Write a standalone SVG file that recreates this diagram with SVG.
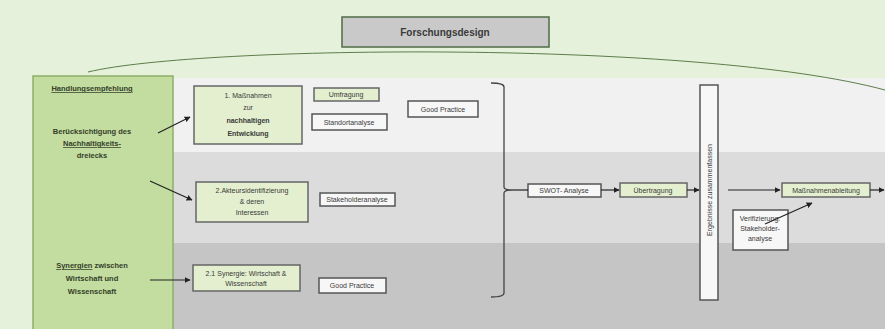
<svg xmlns="http://www.w3.org/2000/svg" width="885" height="329" viewBox="0 0 885 329">
<defs>
<style>
text{font-family:"Liberation Sans",Arial,sans-serif;fill:#3a3a3a;}
.t{font-size:7px;text-anchor:middle;}
.l{font-size:7.5px;text-anchor:middle;font-weight:bold;fill:#33402a;}
.g{fill:#e3efcf;stroke:#666;stroke-width:1.5;}
.w{fill:#f7f7f7;stroke:#555;stroke-width:1.5;}
.c{fill:none;stroke:#222;stroke-width:1.2;}
</style>
<marker id="ah" viewBox="0 0 10 10" refX="9" refY="5" markerWidth="5" markerHeight="5" orient="auto"><path d="M0,0L10,5L0,10z" fill="#222"/></marker>
</defs>
<rect width="885" height="329" fill="#e5f1db"/>
<rect x="172" y="78" width="713" height="74" fill="#f1f1f1"/>
<rect x="172" y="152" width="713" height="91" fill="#dcdcdc"/>
<rect x="172" y="243" width="713" height="86" fill="#c5c5c5"/>
<path d="M88,72 C200,45 700,40 885,90" fill="none" stroke="#5d7d4a" stroke-width="1"/>
<g id="title"><rect x="342" y="17" width="207" height="30" fill="#c9c9c9" stroke="#4f6b45" stroke-width="1.5"/><text x="445" y="36" font-size="10" font-weight="bold" text-anchor="middle">Forschungsdesign</text></g>
<g id="left"><rect x="33" y="76" width="140" height="256" fill="#c3dc9f" stroke="#8fae6a" stroke-width="1.5"/>
<text class="l" x="92" y="91" text-decoration="underline">Handlungsempfehlung</text>
<text class="l" x="92" y="134">Berücksichtigung des</text>
<text class="l" x="92" y="146" text-decoration="underline">Nachhaltigkeits-</text>
<text class="l" x="92" y="158">dreiecks</text>
<text class="l" x="92" y="268"><tspan text-decoration="underline">Synergien</tspan> zwischen</text>
<text class="l" x="92" y="281">Wirtschaft und</text>
<text class="l" x="92" y="294">Wissenschaft</text></g>
<g id="n1"><rect class="g" x="194" y="86" width="108" height="58"/><text class="t" x="248" y="98">1. Maßnahmen</text><text class="t" x="248" y="110">zur</text><text class="t" x="248" y="123" font-weight="bold">nachhaltigen</text><text class="t" x="248" y="136" font-weight="bold">Entwicklung</text></g>
<g id="n2"><rect class="g" x="196" y="182" width="112" height="40"/><text class="t" x="252" y="193">2.Akteursidentifizierung</text><text class="t" x="252" y="204">&amp; deren</text><text class="t" x="252" y="215">Interessen</text></g>
<g id="n3"><rect class="g" x="193" y="265" width="107" height="26"/><text class="t" x="246" y="276">2.1 Synergie: Wirtschaft &amp;</text><text class="t" x="246" y="286">Wissenschaft</text></g>
<g id="umfrage"><rect class="g" x="314" y="88" width="65" height="13"/><text class="t" x="346" y="97">Umfragung</text></g>
<g id="standort"><rect class="w" x="312" y="114" width="75" height="16"/><text class="t" x="349" y="124.5">Standortanalyse</text></g>
<g id="gp1"><rect class="w" x="408" y="101" width="70" height="16"/><text class="t" x="443" y="111.5">Good Practice</text></g>
<g id="stake"><rect class="w" x="320" y="193" width="75" height="13" fill="#fff"/><text class="t" x="357" y="202">Stakeholderanalyse</text></g>
<g id="gp2"><rect class="w" x="319" y="278" width="67" height="15" fill="#fff"/><text class="t" x="352" y="288">Good Practice</text></g>
<g id="swot"><rect class="w" x="528" y="184" width="73" height="13"/><text class="t" x="564" y="193">SWOT- Analyse</text></g>
<g id="ueber"><rect class="g" x="620" y="183" width="67" height="14"/><text class="t" x="653" y="192.5">Übertragung</text></g>
<g id="vert"><rect class="w" x="700" y="85" width="18" height="215"/><text class="t" font-size="7.5" transform="translate(711.5,190) rotate(-90)">Ergebnisse zusammenfassen</text></g>
<g id="mass"><rect class="g" x="782" y="183" width="88" height="14"/><text class="t" x="826" y="192.5">Maßnahmenableitung</text></g>
<g id="verif"><rect class="w" x="733" y="210" width="55" height="40"/><text class="t" x="760" y="221">Verifizierung:</text><text class="t" x="760" y="231">Stakeholder-</text><text class="t" x="760" y="241">analyse</text></g>
<g id="connectors">
<path class="c" d="M158,133 L190,117" marker-end="url(#ah)"/>
<path class="c" d="M150,181 L192,200" marker-end="url(#ah)"/>
<path class="c" d="M150,280 L190,280" marker-end="url(#ah)"/>
<path d="M491,83 Q504,83 504,87 L504,187 Q504,190 512,190 Q504,190 504,193 L504,293 Q504,297 491,297" fill="none" stroke="#444" stroke-width="1.3"/>
<path class="c" d="M512,190 L528,190"/>
<path class="c" d="M601,190 L619,190" marker-end="url(#ah)"/>
<path class="c" d="M687,190 L699,190" marker-end="url(#ah)"/>
<path class="c" d="M728,190 L780,190" marker-end="url(#ah)"/>
<path class="c" d="M870,190 L884,190" marker-end="url(#ah)"/>
<path class="c" d="M765,224 L812,203" marker-end="url(#ah)"/>
</g>
</svg>
